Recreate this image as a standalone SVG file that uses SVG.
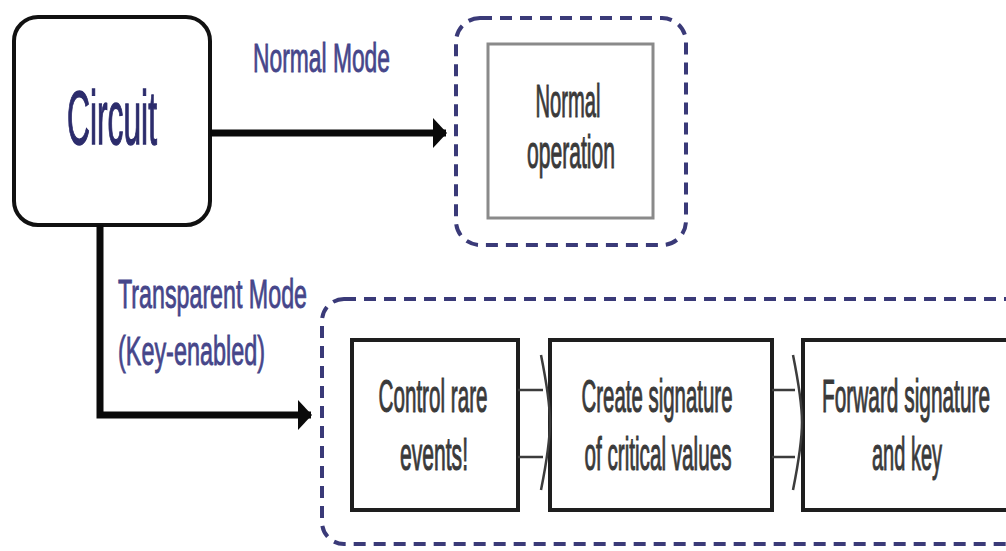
<svg xmlns="http://www.w3.org/2000/svg" width="1006" height="551" viewBox="0 0 1006 551">
  <defs>
    <style>
      .lbl { font-family: "Liberation Sans", Arial, sans-serif; fill: #46468a; stroke: #46468a; stroke-width: 0.5; font-size: 23px; }
      .title { font-family: "Liberation Sans", Arial, sans-serif; fill: #2c2c6c; stroke: #2c2c6c; stroke-width: 0.6; font-size: 32px; text-anchor: middle; }
      .step { font-family: "Liberation Sans", Arial, sans-serif; fill: #3a3a3a; stroke: #3a3a3a; stroke-width: 0.5; font-size: 20.6px; text-anchor: middle; }
      .group { fill: none; stroke: #3a3a78; stroke-width: 4; stroke-dasharray: 12 8; }
      .box { fill: #ffffff; stroke: #1e1e1e; stroke-width: 4; }
      .wire { fill: none; stroke: #0a0a0a; stroke-width: 7; }
      .link { fill: none; stroke: #3c3c3c; stroke-width: 2.5; }
    </style>
    <marker id="head" markerWidth="16" markerHeight="32" refX="13" refY="16" orient="auto" markerUnits="userSpaceOnUse">
      <path d="M0,1 L14,16 L0,31 Z" fill="#0a0a0a"/>
    </marker>
  </defs>

  <rect width="1006" height="551" fill="#ffffff"/>

  <!-- source block -->
  <g id="circuit">
    <rect x="14" y="17" width="196" height="208" rx="24" ry="24" fill="#ffffff" stroke="#111111" stroke-width="4"/>
    <text transform="translate(112,144) scale(1,2.38)" class="title" textLength="90" lengthAdjust="spacingAndGlyphs">Circuit</text>
  </g>

  <!-- mode labels -->
  <g id="label-normal">
    <text transform="translate(253,72) scale(1,1.75)" class="lbl" textLength="137" lengthAdjust="spacingAndGlyphs">Normal Mode</text>
  </g>
  <g id="label-transparent">
    <text transform="translate(118,308) scale(1,1.75)" class="lbl" textLength="189" lengthAdjust="spacingAndGlyphs">Transparent Mode</text>
    <text transform="translate(118,365) scale(1,1.75)" class="lbl" textLength="147" lengthAdjust="spacingAndGlyphs">(Key-enabled)</text>
  </g>

  <!-- normal path group -->
  <g id="normal-group">
    <rect x="456" y="18" width="230" height="227" rx="24" ry="24" class="group"/>
    <g id="normal-operation">
      <rect x="488" y="44" width="165" height="174" fill="#ffffff" stroke="#8a8a8a" stroke-width="3"/>
      <text transform="translate(568,117) scale(1,2.25)" class="step" textLength="65" lengthAdjust="spacingAndGlyphs">Normal</text>
      <text transform="translate(571,168) scale(1,2.25)" class="step" textLength="88" lengthAdjust="spacingAndGlyphs">operation</text>
    </g>
  </g>

  <!-- transparent path group -->
  <g id="transparent-group">
    <rect x="322" y="299" width="720" height="245" rx="22" ry="22" class="group"/>
  </g>

  <g id="control-rare-events">
    <rect x="352" y="340" width="166" height="170" class="box"/>
    <text transform="translate(433,412) scale(1,2.25)" class="step" textLength="109" lengthAdjust="spacingAndGlyphs">Control rare</text>
    <text transform="translate(434,470) scale(1,2.25)" class="step" textLength="68" lengthAdjust="spacingAndGlyphs">events!</text>
  </g>

  <g id="create-signature">
    <rect x="550" y="340" width="222" height="170" class="box"/>
    <text transform="translate(657,412) scale(1,2.25)" class="step" textLength="151" lengthAdjust="spacingAndGlyphs">Create signature</text>
    <text transform="translate(658,470) scale(1,2.25)" class="step" textLength="147" lengthAdjust="spacingAndGlyphs">of critical values</text>
  </g>

  <g id="forward-signature">
    <rect x="803" y="340" width="230" height="170" class="box"/>
    <text transform="translate(906,412) scale(1,2.25)" class="step" textLength="168" lengthAdjust="spacingAndGlyphs">Forward signature</text>
    <text transform="translate(907,470) scale(1,2.25)" class="step" textLength="70" lengthAdjust="spacingAndGlyphs">and key</text>
  </g>

  <!-- connectors -->
  <g id="connectors">
    <path d="M210,133 H446" class="wire" marker-end="url(#head)"/>
    <path d="M100,225 V415 H311" class="wire" marker-end="url(#head)"/>
    <path d="M518,390 H543 M518,457 H543 M541,355 Q550,400 550,422 Q550,445 541,490" class="link"/>
    <path d="M772,390 H795 M772,457 H795 M793,355 Q802,400 802,422 Q802,445 793,490" class="link"/>
  </g>
</svg>
